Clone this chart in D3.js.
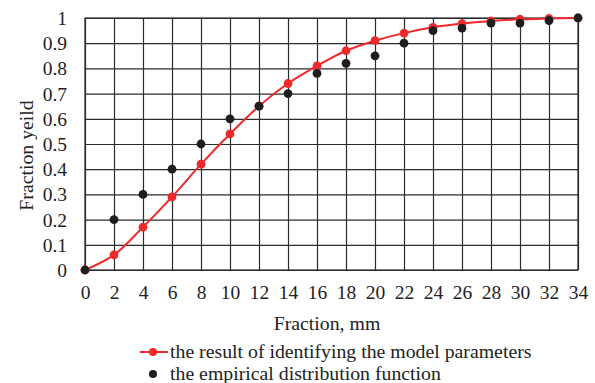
<!DOCTYPE html>
<html>
<head>
<meta charset="utf-8">
<script src="https://cdn.jsdelivr.net/npm/d3@7"></script>
<style>
  body { margin: 0; background: #fff; }
  svg { font-family: 'Liberation Serif', 'Times New Roman', serif; }
</style>
</head>
<body>
<svg id="chart" width="595" height="383"></svg>
<script>
const xValues = [0, 2, 4, 6, 8, 10, 12, 14, 16, 18, 20, 22, 24, 26, 28, 30, 32, 34]
const modelValues = [0, 0.06, 0.17, 0.29, 0.42, 0.54, 0.65, 0.74, 0.81, 0.87, 0.91, 0.94, 0.963, 0.978, 0.988, 0.995, 0.998, 1.0]
const empiricalValues = [0, 0.2, 0.3, 0.4, 0.5, 0.6, 0.65, 0.7, 0.78, 0.82, 0.85, 0.9, 0.95, 0.96, 0.98, 0.98, 0.99, 1.0]
const xTicks = xValues
const yTicks = [0, 0.1, 0.2, 0.3, 0.4, 0.5, 0.6, 0.7, 0.8, 0.9, 1]

const plotLeft = 85
const plotTop = 18
const plotRight = 578
const plotBottom = 270
const red = '#ee2a2d'
const tickFontSize = '19.5px'
const fontSize = '19.8px'

const svg = d3.select('#chart')

const xScale = d3.scaleLinear().domain([0, 34]).range([plotLeft, plotRight])
const yScale = d3.scaleLinear().domain([0, 1]).range([plotBottom, plotTop])

// grid + tick labels
const xAxis = d3.axisBottom(xScale)
    .tickValues(xTicks)
    .tickSizeInner(-(plotBottom - plotTop))
    .tickSizeOuter(0)
    .tickPadding(15)
    .tickFormat(d3.format('d'))
const yAxis = d3.axisLeft(yScale)
    .tickValues(yTicks)
    .tickSizeInner(-(plotRight - plotLeft))
    .tickSizeOuter(0)
    .tickPadding(18)
    .tickFormat((d) => (d === 0 || d === 1 ? d3.format('d')(d) : d3.format('.1f')(d)))

const xAxisContainer = svg.append('g')
    .attr('transform', `translate(0, ${plotBottom})`)
    .call(xAxis)
const yAxisContainer = svg.append('g')
    .attr('transform', `translate(${plotLeft}, 0)`)
    .call(yAxis)

;[xAxisContainer, yAxisContainer].forEach((g) => {
    g.select('.domain').remove()
    g.selectAll('.tick line').attr('stroke', '#2b2b2b').attr('stroke-width', 1.2)
    g.selectAll('.tick text')
        .attr('fill', '#222')
        .style('font-size', tickFontSize)
        .style('font-family', "'Liberation Serif', serif")
})
yAxisContainer.selectAll('.tick text').attr('dy', '0.33em')

// border
svg.append('rect')
    .attr('x', plotLeft)
    .attr('y', plotTop)
    .attr('width', plotRight - plotLeft)
    .attr('height', plotBottom - plotTop)
    .attr('fill', 'none')
    .attr('stroke', '#2b2b2b')
    .attr('stroke-width', 1.2)

// model curve
const modelData = xValues.map((x, i) => ({ x, y: modelValues[i] }))
const empiricalData = xValues.map((x, i) => ({ x, y: empiricalValues[i] }))

const line = d3.line()
    .x((d) => xScale(d.x))
    .y((d) => yScale(d.y))
    .curve(d3.curveCatmullRom.alpha(0.5))

svg.append('path')
    .datum(modelData)
    .attr('d', line)
    .attr('fill', 'none')
    .attr('stroke', red)
    .attr('stroke-width', 2)

svg.append('g')
    .selectAll('circle')
    .data(modelData)
    .join('circle')
    .attr('cx', (d) => xScale(d.x))
    .attr('cy', (d) => yScale(d.y))
    .attr('r', 4.4)
    .attr('fill', red)

svg.append('g')
    .selectAll('circle')
    .data(empiricalData)
    .join('circle')
    .attr('cx', (d) => xScale(d.x))
    .attr('cy', (d) => yScale(d.y))
    .attr('r', 4.4)
    .attr('fill', '#1e1e1e')

// axis titles
svg.append('text')
    .attr('x', 327)
    .attr('y', 330)
    .attr('text-anchor', 'middle')
    .style('font-size', fontSize)
    .attr('fill', '#222')
    .text('Fraction, mm')

svg.append('text')
    .attr('transform', 'translate(33, 155.5) rotate(-90)')
    .attr('text-anchor', 'middle')
    .style('font-size', fontSize)
    .attr('fill', '#222')
    .text('Fraction yeild')

// legend
const legend = svg.append('g')
legend.append('line')
    .attr('x1', 140).attr('x2', 168)
    .attr('y1', 352).attr('y2', 352)
    .attr('stroke', red)
    .attr('stroke-width', 2)
legend.append('circle')
    .attr('cx', 153).attr('cy', 352).attr('r', 4)
    .attr('fill', red)
legend.append('text')
    .attr('x', 170).attr('y', 352)
    .attr('dy', '0.3em')
    .style('font-size', fontSize)
    .attr('fill', '#222')
    .text('the result of identifying the model parameters')
legend.append('circle')
    .attr('cx', 153).attr('cy', 374).attr('r', 4)
    .attr('fill', '#1e1e1e')
legend.append('text')
    .attr('x', 170).attr('y', 374)
    .attr('dy', '0.3em')
    .style('font-size', fontSize)
    .attr('fill', '#222')
    .text('the empirical distribution function')
</script>
</body>
</html>
